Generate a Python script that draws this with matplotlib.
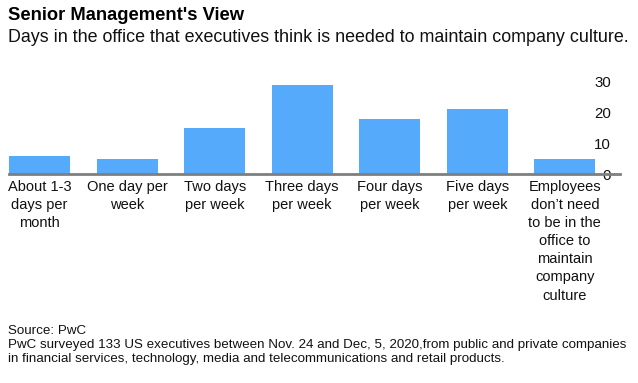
import matplotlib
matplotlib.use("Agg")
import matplotlib.pyplot as plt

categories = [
    "About 1-3\ndays per\nmonth",
    "One day per\nweek",
    "Two days\nper week",
    "Three days\nper week",
    "Four days\nper week",
    "Five days\nper week",
    "Employees\ndon\u2019t need\nto be in the\noffice to\nmaintain\ncompany\nculture",
]
values = [6, 5, 15, 29, 18, 21, 5]
yticks = [0, 10, 20, 30]

title = "Senior Management's View"
subtitle = "Days in the office that executives think is needed to maintain company culture."
footer = ("Source: PwC\n"
          "PwC surveyed 133 US executives between Nov. 24 and Dec, 5, 2020,from public and private companies\n"
          "in financial services, technology, media and telecommunications and retail products.")

plt.rcParams['font.family'] = ['Liberation Sans', 'DejaVu Sans']

W, H = 638, 383
dpi = 100
fig = plt.figure(figsize=(W / dpi, H / dpi), dpi=dpi)

left, right, top, bottom = 9, 620, 80, 174
ax = fig.add_axes([left / W, 1 - bottom / H, (right - left) / W, (bottom - top) / H])

x = list(range(len(categories)))
ax.bar(x, values, width=0.70, color='#55AAFB', zorder=2)
ax.set_xlim(-0.35, 6.63)
ax.set_ylim(0, 30.6)

for s in ['top', 'left', 'right']:
    ax.spines[s].set_visible(False)
ax.spines['bottom'].set_color('#7f7f7f')
ax.spines['bottom'].set_linewidth(2)
ax.spines['bottom'].set_zorder(3)

ax.set_xticks(x)
ax.set_xticklabels(categories, fontsize=10.5, color='#111111', linespacing=1.38)
ax.tick_params(axis='x', length=0, pad=4)

ax.yaxis.tick_right()
ax.set_yticks(yticks)
ax.set_yticklabels([str(v) for v in yticks], fontsize=10.8, color='#111111')
ax.tick_params(axis='y', length=0, pad=-9 * 72 / dpi)
for lab in ax.get_yticklabels():
    lab.set_horizontalalignment('right')

fig.text(8 / W, 1 - 15 / H, title, fontsize=13.2, fontweight='bold', va='center', ha='left', color='#000000')
fig.text(8 / W, 1 - 38 / H, subtitle, fontsize=12.9, va='center', ha='left', color='#111111')
fig.text(8 / W, 1 - 325 / H, footer, fontsize=9.6, va='top', ha='left', color='#111111', linespacing=1.2)

fig.savefig("out.png", dpi=dpi)
